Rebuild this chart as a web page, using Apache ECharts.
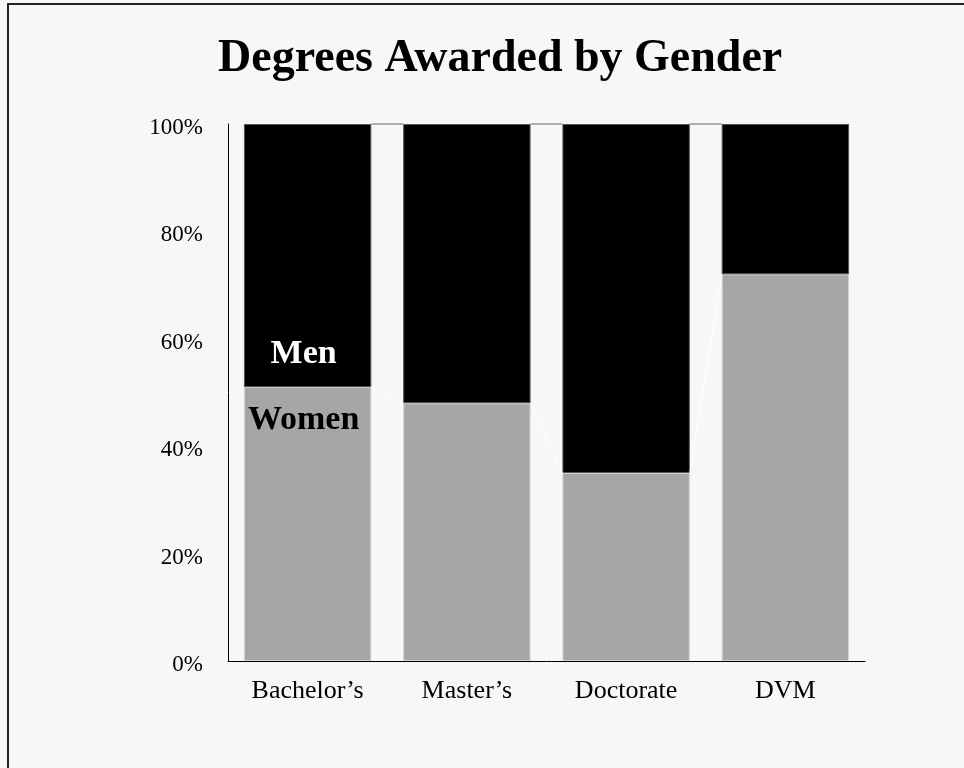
<!DOCTYPE html>
<html>
<head>
<meta charset="utf-8">
<script src="https://cdn.jsdelivr.net/npm/echarts@6/dist/echarts.min.js"></script>
<style>
html,body{margin:0;padding:0;background:#f7f7f7;}
#chart{width:964px;height:768px;}
</style>
</head>
<body>
<div id="chart"></div>
<script>
const categories = ["Bachelor\u2019s", "Master\u2019s", "Doctorate", "DVM"];
const women = [51, 48, 35, 72];
const men = [49, 52, 65, 28];
const yTicks = [0, 20, 40, 60, 80, 100];

const totals = women.map((w, i) => w + men[i]);
const womenLinks = [];
const totalLinks = [];
for (let i = 0; i < categories.length - 1; i++) {
  womenLinks.push([i, women[i], women[i + 1]]);
  totalLinks.push([i, totals[i], totals[i + 1]]);
}

function linkRenderer(color) {
  return function (params, api) {
    const i = api.value(0);
    const p1 = api.coord([i, api.value(1)]);
    const p2 = api.coord([i + 1, api.value(2)]);
    const half = api.size([1, 0])[0] * 0.4;
    return {
      type: 'line',
      shape: { x1: p1[0] + half, y1: p1[1], x2: p2[0] - half, y2: p2[1] },
      style: { stroke: color, lineWidth: 1 }
    };
  };
}

const serif = '"Liberation Serif", "DejaVu Serif", serif';
const chart = echarts.init(document.getElementById('chart'));
chart.setOption({
  backgroundColor: '#f7f7f7',
  animation: false,
  title: {
    text: 'Degrees Awarded by Gender',
    left: 213,
    top: 31,
    textStyle: { fontFamily: serif, fontSize: 46, fontWeight: 'bold', color: '#000' }
  },
  graphic: [{
    type: 'polyline',
    shape: { points: [[8, 768], [8, 4], [964, 4]] },
    style: { stroke: '#222', lineWidth: 2, fill: null }
  }],
  grid: { left: 228, right: 99, top: 124, bottom: 107 },
  xAxis: {
    type: 'category',
    data: categories,
    axisLine: { lineStyle: { color: '#000', width: 1 } },
    axisTick: { show: false },
    axisLabel: { fontFamily: serif, fontSize: 26, color: '#000', margin: 17 }
  },
  yAxis: {
    type: 'value',
    min: yTicks[0],
    max: yTicks[yTicks.length - 1],
    interval: yTicks[1] - yTicks[0],
    axisLine: { show: true, lineStyle: { color: '#000', width: 1 } },
    axisTick: { show: false },
    splitLine: { show: false },
    axisLabel: {
      fontFamily: serif, fontSize: 23, color: '#000', margin: 25,
      formatter: v => '{a|' + v + '%}',
      rich: { a: { fontFamily: serif, fontSize: 23, color: '#000', padding: [8, 0, 0, 0] } }
    }
  },
  series: [
    {
      name: 'Women',
      type: 'bar',
      stack: 'g',
      barCategoryGap: '20%',
      itemStyle: { color: '#a6a6a6', borderColor: '#d4d4d4', borderWidth: 1 },
      data: women.map((v, i) => i === 0 ? {
        value: v,
        label: {
          show: true, position: 'insideTop', distance: 16, offset: [-4, 0], formatter: 'Women',
          fontFamily: serif, fontSize: 34, fontWeight: 'bold', color: '#000'
        }
      } : v)
    },
    {
      name: 'Men',
      type: 'bar',
      stack: 'g',
      barCategoryGap: '20%',
      itemStyle: { color: '#000', borderColor: '#555', borderWidth: 1 },
      data: men.map((v, i) => i === 0 ? {
        value: v,
        label: {
          show: true, position: 'insideBottom', distance: 16, offset: [-4, 0], formatter: 'Men',
          fontFamily: serif, fontSize: 34, fontWeight: 'bold', color: '#fff'
        }
      } : v)
    },
    {
      type: 'custom',
      renderItem: linkRenderer('#ffffff'),
      data: womenLinks,
      silent: true,
      z: 5
    },
    {
      type: 'custom',
      renderItem: linkRenderer('#666666'),
      data: totalLinks,
      silent: true,
      z: 5
    }
  ]
});
</script>
</body>
</html>
